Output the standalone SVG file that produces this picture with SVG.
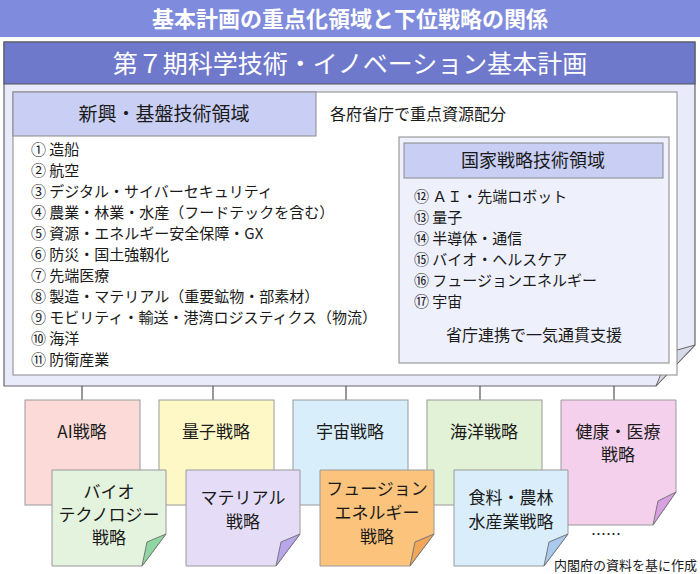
<svg xmlns="http://www.w3.org/2000/svg" width="700" height="574" viewBox="0 0 700 574">
<style>
text{font-family:"Noto Sans CJK JP","Noto Sans",sans-serif;fill:#1a1a1a}
.li{font-size:15px}
.cd{font-size:17px;text-anchor:middle}
.card{stroke:#9a9a9a;stroke-width:1}
.fold{stroke:#777;stroke-width:1}
.cn{stroke:#555;stroke-width:1.2;fill:none}
</style>
<rect width="700" height="574" fill="#fff"/>
<g id="title">
<rect x="0" y="0" width="700" height="37" fill="#7f8bdc"/>
<text x="350" y="27" font-size="22" font-weight="bold" text-anchor="middle" style="fill:#fff">基本計画の重点化領域と下位戦略の関係</text>
</g>
<g id="plan">
<path d="M4 42 H695 V345 L656 386 H4 Z" fill="#e9ebfb" stroke="#666" stroke-width="1.2"/>
<path d="M656 386 L670 352 L695 345 Z" fill="#d8dae8" stroke="#666"/>
<rect x="4" y="42" width="691" height="42" fill="#6f79cc" stroke="#555"/>
<text x="350" y="73" font-size="25" text-anchor="middle" style="fill:#fff">第７期科学技術・イノベーション基本計画</text>
<rect x="13" y="92" width="664" height="283" fill="#fff" stroke="#888"/>
<rect x="13" y="92" width="303" height="44" fill="#c9cff4" stroke="#888"/>
<text x="164" y="121" font-size="19" text-anchor="middle">新興・基盤技術領域</text>
<text x="330" y="120" font-size="16">各府省庁で重点資源配分</text>
<text class="li" x="31" y="155">① 造船</text>
<text class="li" x="31" y="176">② 航空</text>
<text class="li" x="31" y="197">③ デジタル・サイバーセキュリティ</text>
<text class="li" x="31" y="218">④ 農業・林業・水産（フードテックを含む）</text>
<text class="li" x="31" y="239">⑤ 資源・エネルギー安全保障・GX</text>
<text class="li" x="31" y="260">⑥ 防災・国土強靱化</text>
<text class="li" x="31" y="281">⑦ 先端医療</text>
<text class="li" x="31" y="302">⑧ 製造・マテリアル（重要鉱物・部素材）</text>
<text class="li" x="31" y="323">⑨ モビリティ・輸送・港湾ロジスティクス（物流）</text>
<text class="li" x="31" y="344">⑩ 海洋</text>
<text class="li" x="31" y="365">⑪ 防衛産業</text>
</g>
<g id="national">
<rect x="399" y="137" width="270" height="226" fill="#eef0fc" stroke="#888"/>
<rect x="404" y="143" width="259" height="35" fill="#c9cff4" stroke="#888"/>
<text x="533" y="167" font-size="18" text-anchor="middle">国家戦略技術領域</text>
<text class="li" x="414" y="202">⑫ ＡＩ・先端ロボット</text>
<text class="li" x="414" y="223">⑬ 量子</text>
<text class="li" x="414" y="244">⑭ 半導体・通信</text>
<text class="li" x="414" y="265">⑮ バイオ・ヘルスケア</text>
<text class="li" x="414" y="286">⑯ フュージョンエネルギー</text>
<text class="li" x="414" y="307">⑰ 宇宙</text>
<text x="534" y="341" font-size="16" text-anchor="middle">省庁連携で一気通貫支援</text>
</g>
<g id="connectors">
<path class="cn" d="M82 386V400M213 386V400M346 386V400M480 386V400M614 386V400"/>
</g>
<g id="ai"><rect class="card" x="25" y="400" width="115" height="105" fill="#fbdad7"/><text class="cd" x="82" y="438">AI戦略</text></g>
<g id="ryoshi"><rect class="card" x="159" y="400" width="115" height="105" fill="#fdf8c6"/><text class="cd" x="216" y="438">量子戦略</text></g>
<g id="uchu"><rect class="card" x="293" y="400" width="115" height="105" fill="#d9eefb"/><text class="cd" x="350" y="438">宇宙戦略</text></g>
<g id="kaiyo"><rect class="card" x="427" y="400" width="115" height="105" fill="#e2f2d6"/><text class="cd" x="484" y="438">海洋戦略</text></g>
<g id="kenko"><path class="card" d="M561 400H676V492L653 525H561Z" fill="#f4d0ec"/><path class="fold" d="M653 525L658 501L676 492Z" fill="#d8a0e2"/><text class="cd" x="618" y="438">健康・医療</text><text class="cd" x="618" y="461">戦略</text></g>
<g id="bio"><path class="card" d="M52 470H166V534L142 566H52Z" fill="#e3f3dd"/><path class="fold" d="M142 566L147 542L166 534Z" fill="#8fd6a2"/><text class="cd" x="109" y="498">バイオ</text><text class="cd" x="109" y="521">テクノロジー</text><text class="cd" x="109" y="544">戦略</text></g>
<g id="material"><path class="card" d="M186 470H300V534L276 566H186Z" fill="#e5ddf8"/><path class="fold" d="M276 566L281 542L300 534Z" fill="#b9a5ec"/><text class="cd" x="243" y="504">マテリアル</text><text class="cd" x="243" y="528">戦略</text></g>
<g id="fusion"><path class="card" d="M320 470H434V534L410 566H320Z" fill="#fbc37c"/><path class="fold" d="M410 566L415 542L434 534Z" fill="#f2a65a"/><text class="cd" x="377" y="495">フュージョン</text><text class="cd" x="377" y="519">エネルギー</text><text class="cd" x="377" y="543">戦略</text></g>
<g id="food"><path class="card" d="M454 470H568V534L544 566H454Z" fill="#d9edfb"/><path class="fold" d="M544 566L549 542L568 534Z" fill="#a9c9ef"/><text class="cd" x="511" y="504">食料・農林</text><text class="cd" x="511" y="528">水産業戦略</text></g>
<text x="606" y="540" font-size="15" text-anchor="middle">……</text>
<text x="697" y="570" font-size="13" text-anchor="end">内閣府の資料を基に作成</text>
</svg>
